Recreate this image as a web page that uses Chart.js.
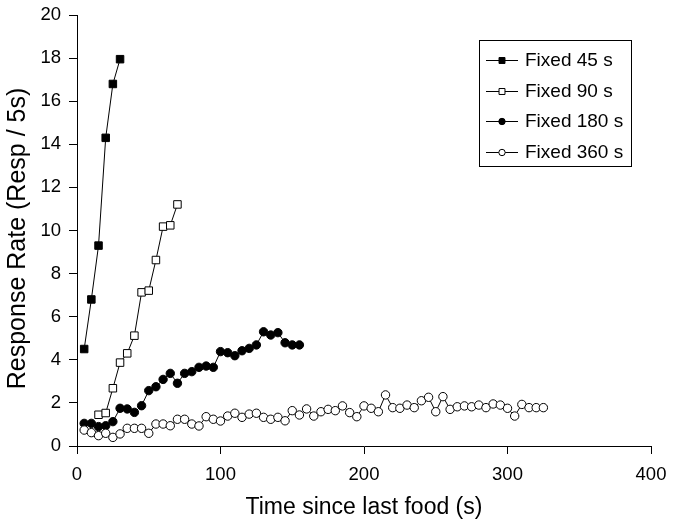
<!DOCTYPE html>
<html>
<head>
<meta charset="utf-8">
<script src="https://cdn.jsdelivr.net/npm/chart.js@4/dist/chart.umd.min.js"></script>
<style>
html,body{margin:0;padding:0;background:#fff;}
#c{display:block;}
</style>
</head>
<body>
<canvas id="c" width="674" height="527"></canvas>
<script>
// ---- data ----
const seriesNames = ["Fixed 45 s", "Fixed 90 s", "Fixed 180 s", "Fixed 360 s"];

const time45 = [5, 10, 15, 20, 25, 30];
const rate45 = [4.5, 6.8, 9.3, 14.3, 16.8, 17.95];

const time90 = [15, 20, 25, 30, 35, 40, 45, 50, 55, 60, 65, 70];
const rate90 = [1.45, 1.53, 2.68, 3.87, 4.30, 5.12, 7.13, 7.21, 8.63, 10.18, 10.24, 11.21];

const time180 = [5, 10, 15, 20, 25, 30, 35, 40, 45, 50, 55, 60, 65, 70, 75, 80,
  85, 90, 95, 100, 105, 110, 115, 120, 125, 130, 135, 140, 145, 150, 155];
const rate180 = [1.05, 1.05, 0.90, 0.94, 1.13, 1.75, 1.72, 1.56, 1.87, 2.57, 2.75, 3.09,
  3.37, 2.91, 3.37, 3.45, 3.65, 3.71, 3.65, 4.38, 4.33, 4.19, 4.42, 4.53, 4.69,
  5.30, 5.15, 5.26, 4.79, 4.69, 4.69];

const time360 = [5, 10, 15, 20, 25, 30, 35, 40, 45, 50, 55, 60, 65, 70, 75, 80, 85,
  90, 95, 100, 105, 110, 115, 120, 125, 130, 135, 140, 145, 150, 155, 160, 165,
  170, 175, 180, 185, 190, 195, 200, 205, 210, 215, 220, 225, 230, 235, 240, 245,
  250, 255, 260, 265, 270, 275, 280, 285, 290, 295, 300, 305, 310, 315, 320, 325];
const rate360 = [0.74, 0.62, 0.48, 0.59, 0.40, 0.56, 0.82, 0.82, 0.82, 0.59,
  1.02, 1.02, 0.94, 1.24, 1.24, 1.02, 0.93, 1.36, 1.24, 1.16,
  1.39, 1.52, 1.33, 1.48, 1.52, 1.33, 1.24, 1.33, 1.17, 1.64,
  1.44, 1.72, 1.39, 1.59, 1.70, 1.64, 1.86, 1.55, 1.36, 1.86,
  1.75, 1.59, 2.37, 1.78, 1.75, 1.90, 1.78, 2.10, 2.26, 1.59,
  2.29, 1.70, 1.82, 1.86, 1.82, 1.90, 1.78, 1.95, 1.90, 1.75,
  1.39, 1.93, 1.78, 1.78, 1.78];

const xTitle = "Time since last food (s)";
const yTitle = "Response Rate (Resp / 5s)";

// ---- build ----
const FONT = "'Liberation Sans', Arial, sans-serif";
function pts(xs, ys) { return xs.map((x, i) => ({ x: x, y: ys[i] })); }

const styles = [
  { pointStyle: 'rect', radius: 5.3, bg: '#000', legendR: 4.2 },
  { pointStyle: 'rect', radius: 5.3, bg: '#fff', legendR: 4.2 },
  { pointStyle: 'circle', radius: 4.2, bg: '#000', legendR: 3.2 },
  { pointStyle: 'circle', radius: 4.2, bg: '#fff', legendR: 3.2 }
];
const seriesData = [pts(time45, rate45), pts(time90, rate90), pts(time180, rate180), pts(time360, rate360)];

const datasets = seriesData.map((d, i) => ({
  label: seriesNames[i],
  data: d,
  borderColor: '#000',
  borderWidth: 1,
  backgroundColor: styles[i].bg,
  pointStyle: styles[i].pointStyle,
  pointRadius: styles[i].radius,
  pointHoverRadius: styles[i].radius,
  pointBackgroundColor: styles[i].bg,
  pointBorderColor: '#000',
  pointBorderWidth: 1,
  tension: 0,
  fill: false,
  order: 4 - i
}));

const overlay = {
  id: 'overlay',
  afterDraw(chart) {
    const ctx = chart.ctx;
    const area = chart.chartArea;
    ctx.save();
    ctx.fillStyle = '#000';
    // axis titles
    ctx.font = '23px ' + FONT;
    ctx.textAlign = 'center';
    ctx.textBaseline = 'alphabetic';
    ctx.fillText(xTitle, (area.left + area.right) / 2, 514);
    ctx.save();
    ctx.font = '25px ' + FONT;
    ctx.translate(25, 238.5);
    ctx.rotate(-Math.PI / 2);
    ctx.fillText(yTitle, 0, 0);
    ctx.restore();

    // legend
    const bx = 479.5, by = 40.5, bw = 152, bh = 126;
    ctx.fillStyle = '#fff';
    ctx.fillRect(bx, by, bw, bh);
    ctx.strokeStyle = '#000';
    ctx.lineWidth = 1;
    ctx.strokeRect(bx, by, bw, bh);
    const rows = [60, 90.5, 121, 151.5];
    ctx.font = '19px ' + FONT;
    ctx.textAlign = 'left';
    ctx.textBaseline = 'middle';
    seriesNames.forEach((name, i) => {
      const y = rows[i];
      ctx.strokeStyle = '#000';
      ctx.lineWidth = 1;
      ctx.beginPath();
      ctx.moveTo(486, Math.round(y) + 0.5);
      ctx.lineTo(518, Math.round(y) + 0.5);
      ctx.stroke();
      ctx.fillStyle = styles[i].bg;
      ctx.strokeStyle = '#000';
      Chart.helpers.drawPoint(ctx, {
        pointStyle: styles[i].pointStyle,
        radius: styles[i].legendR,
        rotation: 0,
        borderWidth: 1
      }, 502, Math.round(y) + 0.5);
      ctx.fillStyle = '#000';
      ctx.fillText(name, 525, y + 1);
    });
    ctx.restore();
  }
};

new Chart(document.getElementById('c'), {
  type: 'line',
  data: { datasets: datasets },
  plugins: [overlay],
  options: {
    responsive: false,
    animation: false,
    events: [],
    layout: { padding: { top: 15, right: 23, left: 0, bottom: 0 } },
    plugins: { legend: { display: false }, tooltip: { enabled: false } },
    scales: {
      x: {
        type: 'linear',
        min: 0, max: 400,
        afterFit(scale) { scale.height = 81; scale.paddingLeft = 0; scale.paddingRight = 0; },
        ticks: { stepSize: 100, color: '#000', padding: 10, maxRotation: 0,
          font: { family: FONT, size: 18.5 } },
        grid: { display: true, drawOnChartArea: false, drawTicks: true, tickLength: 8,
          color: '#000', lineWidth: 1 },
        border: { display: true, color: '#000', width: 1 }
      },
      y: {
        type: 'linear',
        min: 0, max: 20,
        afterFit(scale) { scale.width = 77; scale.paddingTop = 0; scale.paddingBottom = 0; },
        ticks: { stepSize: 2, color: '#000', padding: 8,
          font: { family: FONT, size: 18.5 } },
        grid: { display: true, drawOnChartArea: false, drawTicks: true, tickLength: 8,
          color: '#000', lineWidth: 1 },
        border: { display: true, color: '#000', width: 1 }
      }
    }
  }
});
</script>
</body>
</html>
